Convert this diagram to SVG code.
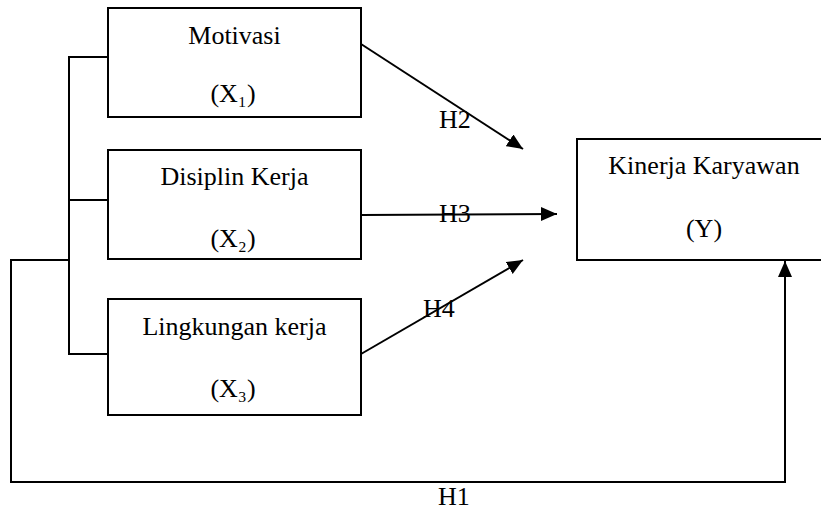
<svg xmlns="http://www.w3.org/2000/svg" width="821" height="512" viewBox="0 0 821 512">
<style>
.box{fill:#fff;stroke:#000;stroke-width:2}
.ln{fill:none;stroke:#000;stroke-width:2}
.t{font-family:"Liberation Serif","Times New Roman",serif;font-size:26px;fill:#000}
.m{text-anchor:middle}
</style>
<defs>
<marker id="ah" markerUnits="userSpaceOnUse" markerWidth="17" markerHeight="15" refX="16" refY="7" orient="auto">
<path d="M0,0 L16,7 L0,14 z" fill="#000"/>
</marker>
</defs>
<g id="connectors">
<polyline class="ln" points="108,57 69,57 69,354 108,354"/>
<line class="ln" x1="69" y1="200" x2="108" y2="200"/>
<polyline class="ln" points="69,260 11,260 11,482 785,482 785,261" marker-end="url(#ah)"/>
<line class="ln" x1="361" y1="44" x2="523" y2="149" marker-end="url(#ah)"/>
<line class="ln" x1="361" y1="215" x2="557" y2="214" marker-end="url(#ah)"/>
<line class="ln" x1="361" y1="354" x2="523" y2="260" marker-end="url(#ah)"/>
<text class="t" x="439" y="128">H2</text>
<text class="t" x="439" y="222">H3</text>
<text class="t" x="423" y="317">H4</text>
<text class="t" x="438" y="505">H1</text>
</g>
<g id="motivasi">
<rect class="box" x="108" y="8" width="253" height="109"/>
<text class="t m" x="234.5" y="44">Motivasi</text>
<text class="t m" x="233" y="102">(X₁)</text>
</g>
<g id="disiplin">
<rect class="box" x="108" y="150" width="253" height="109"/>
<text class="t m" x="234.5" y="185">Disiplin Kerja</text>
<text class="t m" x="233" y="247">(X₂)</text>
</g>
<g id="lingkungan">
<rect class="box" x="108" y="299" width="253" height="116"/>
<text class="t m" x="234.5" y="335">Lingkungan kerja</text>
<text class="t m" x="233" y="397">(X₃)</text>
</g>
<g id="kinerja">
<rect class="box" x="577" y="139" width="246" height="121"/>
<text class="t m" x="704" y="174">Kinerja Karyawan</text>
<text class="t m" x="704" y="237">(Y)</text>
</g>
</svg>
